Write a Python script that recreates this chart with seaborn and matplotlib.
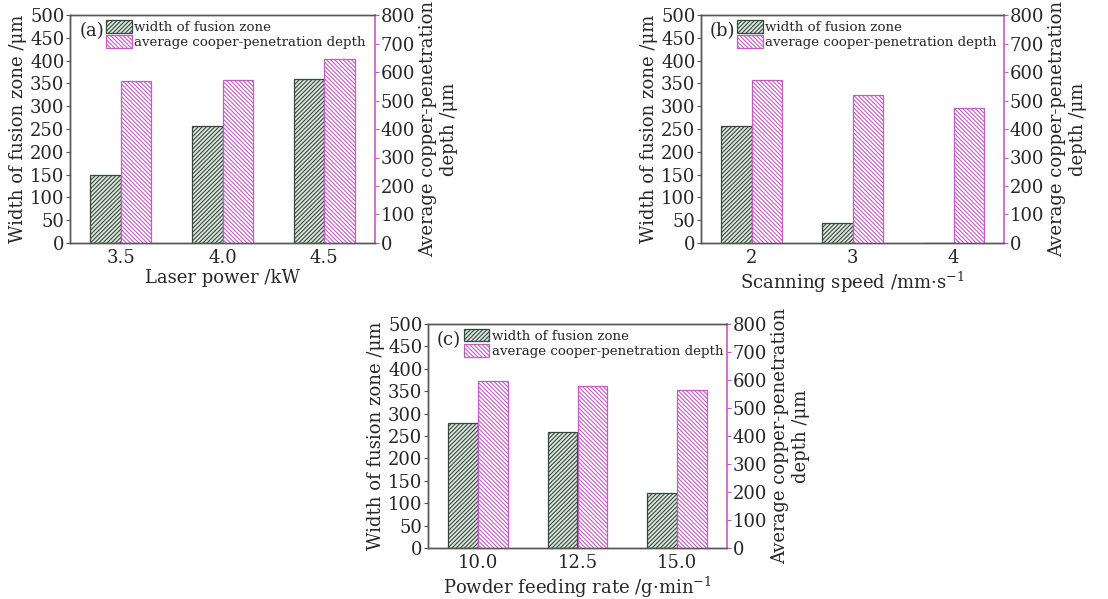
import matplotlib
matplotlib.use("Agg")
import matplotlib.pyplot as plt
import seaborn as sns
import pandas as pd
import numpy as np
from matplotlib.patches import Patch

# ---- data ----
power_labels = ["3.5", "4.0", "4.5"]
power_width = [150, 257, 360]
power_depth = [568, 572, 645]

speed_labels = ["2", "3", "4"]
speed_width = [256, 44, 0]
speed_depth = [572, 520, 473]

feed_labels = ["10.0", "12.5", "15.0"]
feed_width = [279, 258, 122]
feed_depth = [596, 578, 563]

series_names = ["width of fusion zone", "average cooper-penetration depth"]
panel_letters = ["(a)", "(b)", "(c)"]
xlabels = ["Laser power /kW", "Scanning speed /mm\u00b7s$^{-1}$", "Powder feeding rate /g\u00b7min$^{-1}$"]
ylabel_left = "Width of fusion zone /\u03bcm"
ylabel_right = "Average copper-penetration\ndepth /\u03bcm"

sns.set_theme(style="ticks")
plt.rcParams["font.family"] = ["DejaVu Serif"]
plt.rcParams["mathtext.fontset"] = "dejavuserif"
plt.rcParams["hatch.linewidth"] = 0.8

GREEN_EDGE = "#34493d"
GREEN_FACE = "#dfe7e1"
PINK = "#c45cc4"
GRAY = "#555555"
HATCH_G = "////////"
HATCH_P = "\\\\\\\\\\\\\\\\"

fig = plt.figure(figsize=(11.08, 5.99), dpi=100)
rects = [
    [70/1108, (599-243)/599, 305/1108, 228/599],
    [701/1108, (599-243)/599, 303/1108, 228/599],
    [428/1108, (599-548)/599, 299/1108, 224/599],
]
panels = [
    (power_labels, power_width, power_depth),
    (speed_labels, speed_width, speed_depth),
    (feed_labels, feed_width, feed_depth),
]
pal = {series_names[0]: GREEN_FACE, series_names[1]: "white"}

for i, (rect, (cats, wvals, dvals)) in enumerate(zip(rects, panels)):
    ax = fig.add_axes(rect)
    ax2 = ax.twinx()
    df_w = pd.DataFrame({"cat": cats, "val": wvals, "series": series_names[0]})
    df_d = pd.DataFrame({"cat": cats, "val": dvals, "series": series_names[1]})
    sns.barplot(data=df_w, x="cat", y="val", hue="series", hue_order=series_names,
                order=cats, width=0.6, dodge=True, ax=ax, legend=False,
                palette=pal, edgecolor=GREEN_EDGE, linewidth=0.9,
                hatch=HATCH_G, saturation=1)
    sns.barplot(data=df_d, x="cat", y="val", hue="series", hue_order=series_names,
                order=cats, width=0.6, dodge=True, ax=ax2, legend=False,
                palette=pal, edgecolor=PINK, linewidth=0.9,
                hatch=HATCH_P, saturation=1)
    ax.set_xlim(-0.5, 2.5)
    ax.set_ylim(0, 500)
    ax2.set_ylim(0, 800)
    ax.set_yticks(np.arange(0, 501, 50))
    ax2.set_yticks(np.arange(0, 801, 100))
    ax.set_xlabel(xlabels[i], fontsize=13, labelpad=2)
    ax.set_ylabel(ylabel_left, fontsize=13, labelpad=2)
    ax2.set_ylabel(ylabel_right, fontsize=13, labelpad=3)
    ax2.set_xlabel("")
    ax.tick_params(axis="both", labelsize=13, length=3, width=0.8, color=GRAY, pad=1)
    ax.tick_params(axis="x", length=0, pad=4)
    ax2.tick_params(axis="y", labelsize=13, length=3, width=0.8, color=PINK, pad=1)
    for s in ["left", "bottom", "top"]:
        ax.spines[s].set_color(GRAY)
        ax.spines[s].set_linewidth(1.0)
        ax2.spines[s].set_color(GRAY)
        ax2.spines[s].set_linewidth(1.0)
    ax2.spines["right"].set_color(PINK)
    ax2.spines["right"].set_linewidth(1.2)
    ax.spines["right"].set_visible(False)

    ax2.text(0.03, 0.93, panel_letters[i], transform=ax.transAxes, fontsize=13,
             va="center", ha="left")
    handles = [
        Patch(facecolor=GREEN_FACE, edgecolor=GREEN_EDGE, hatch=HATCH_G, linewidth=0.9),
        Patch(facecolor="white", edgecolor=PINK, hatch=HATCH_P, linewidth=0.9),
    ]
    ax2.legend(handles, series_names, loc="upper left", bbox_to_anchor=(0.115, 0.985),
               frameon=False, fontsize=9.6, handlelength=1.9, handleheight=1.1,
               handletextpad=0.2, labelspacing=0.1, borderpad=0.1, borderaxespad=0.0)

fig.savefig("out.png", dpi=100)
